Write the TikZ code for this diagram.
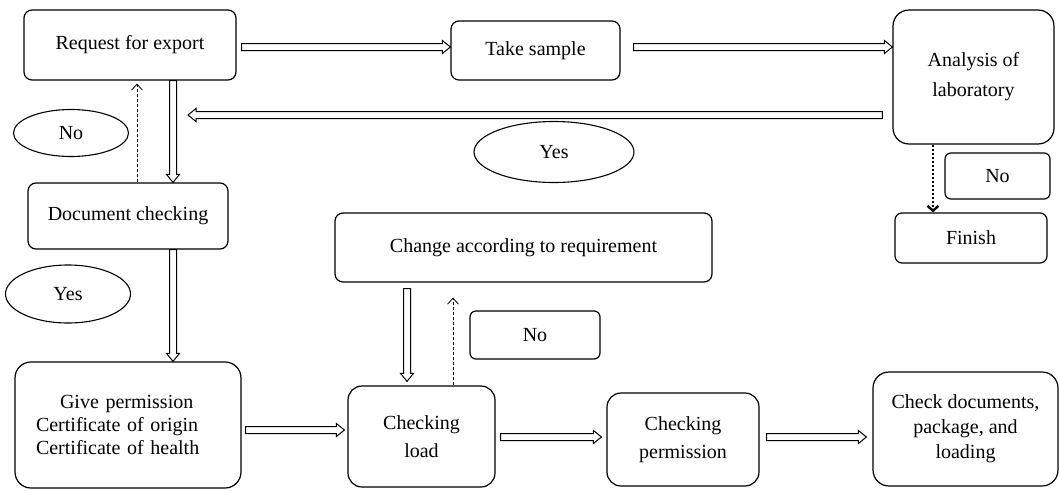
\documentclass[tikz,border=0pt]{standalone}
\usepackage{fontspec}
\setmainfont{Liberation Serif}
\usetikzlibrary{calc,arrows.meta,shapes.geometric}
\begin{document}
\begin{tikzpicture}[x=1pt,y=-1pt,
  font=\fontsize{20}{24}\selectfont,
  box/.style={draw, line width=1.2pt, rounded corners=#1, inner sep=0pt, align=center},
  box/.default=8pt,
  oval/.style={draw, ellipse, line width=1.1pt, inner sep=0pt},
  blockarrow/.style={draw, line width=1pt, line join=miter, to path={
    let \p1=(\tikztostart), \p2=(\tikztotarget),
        \n1={veclen(\x2-\x1,\y2-\y1)}, \n2={atan2(\y2-\y1,\x2-\x1)} in
    ($(\p1)+(\n2+90:3.5pt)$) -- ++(\n2:\n1-8pt) -- ++(\n2+90:3pt) -- (\p2)
    -- ($(\p2)+(\n2+180:8pt)+(\n2-90:6.5pt)$) -- ++(\n2+90:3pt)
    -- ($(\p1)+(\n2-90:3.5pt)$) -- cycle}},
  dasharrow/.style={draw, line width=0.8pt, dash pattern=on 3pt off 2pt,
    -{Straight Barb[length=6pt,width=11pt]}},
  dotarrow/.style={draw, line width=2.4pt, dash pattern=on 2pt off 2pt,
    -{Straight Barb[length=5pt,width=11pt]}}
]
\fill[white] (0,0) rectangle (1060,490);
\useasboundingbox (0,0) rectangle (1060,490);

% boxes
\node[box] (req) at (130,45) [minimum width=212pt, minimum height=70pt] {Request for export};
\node[box] (take) at (535.5,50.5) [minimum width=169pt, minimum height=59pt] {Take sample};
\node[box=16pt, font=\fontsize{20}{30}\selectfont] (ana) at (973.5,77) [minimum width=161pt, minimum height=134pt] {Analysis of\\laboratory};
\node[box=6pt] (no3) at (997.5,176) [minimum width=105pt, minimum height=46pt] {No};
\node[box=7pt] (fin) at (971,238) [minimum width=152pt, minimum height=50pt] {Finish};
\node[box] (doc) at (128,216) [minimum width=200pt, minimum height=66pt] {Document checking};
\node[box] (chg) at (523.5,247.5) [minimum width=377pt, minimum height=69pt] {Change according to requirement};
\node[box=6pt] (no2) at (535,335) [minimum width=130pt, minimum height=48pt] {No};
\node[box=14pt, font=\fontsize{20}{28}\selectfont] (load) at (421.5,436.5) [minimum width=147pt, minimum height=101pt] {Checking\\load};
\node[box=14pt, font=\fontsize{20}{28}\selectfont] (perm) at (683,439.5) [minimum width=152pt, minimum height=93pt] {Checking\\permission};
\node[box=16pt, font=\fontsize{20}{25}\selectfont] (chk) at (965.5,429) [minimum width=185pt, minimum height=114pt] {Check documents,\\package, and\\loading};
\node[box=16pt, align=left, text width=184pt, inner xsep=21pt, font=\fontsize{20}{23}\selectfont] (give) at (128,425) [minimum height=126pt] {\hspace*{24pt}Give permission\\Certificate of origin\\Certificate of health};

% ovals
\node[oval, minimum width=115pt, minimum height=47pt] (no1) at (71,133) {No};
\node[oval, minimum width=160pt, minimum height=61pt] (yes1) at (554,152) {Yes};
\node[oval, minimum width=125pt, minimum height=58pt] (yes2) at (68,294) {Yes};

\coordinate (yesend) at (188,115);

% block arrows
\draw[blockarrow] ($(req.east)+(5,2)$) to ($(take.west)+(0,-3.5)$);
\draw[blockarrow] ($(take.east)+(13,-3.5)$) to ($(ana.west)+(0,-30)$);
\draw[blockarrow] ($(ana.west)+(-10,38)$) to (yesend);
\draw[blockarrow] ($(req.south)+(43,0)$) to ($(doc.north)+(45,0)$);
\draw[blockarrow] ($(doc.south)+(45,0)$) to ($(give.north)+(45,0)$);
\draw[blockarrow] ($(give.east)+(4,5)$) to ($(load.west)+(-3,-6.5)$);
\draw[blockarrow] ($(load.east)+(5,0.5)$) to ($(perm.west)+(-5,-2.5)$);
\draw[blockarrow] ($(perm.east)+(7,-2.5)$) to ($(chk.west)+(-6,8)$);
\draw[blockarrow] ($(chg.south)+(-116.5,6)$) to ($(load.north)+(-14.5,-4)$);

% dashed / dotted arrows
\draw[dasharrow] ($(doc.north)+(9,0)$) -- ($(req.south)+(7,3)$);
\draw[dasharrow] ($(load.north)+(31.5,0)$) -- ($(chg.south)+(-70.5,15)$);
\draw[dotarrow] ($(ana.south)+(-40.5,0)$) -- ($(fin.north)+(-38,0)$);
\end{tikzpicture}
\end{document}
